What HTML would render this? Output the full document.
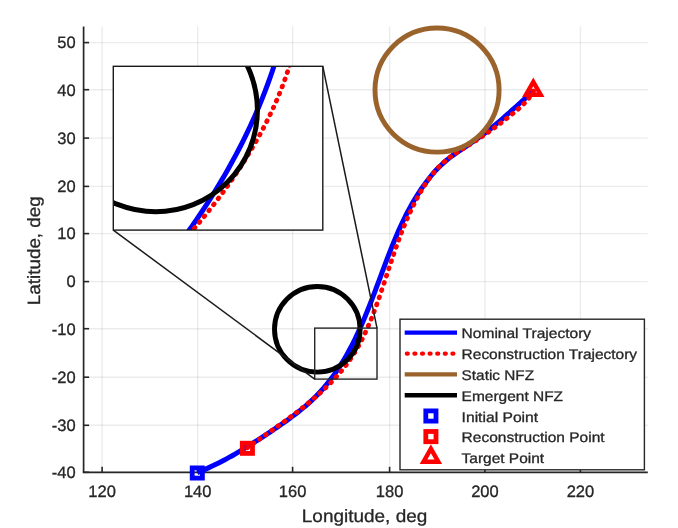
<!DOCTYPE html>
<html><head><meta charset="utf-8"><style>
html,body{margin:0;padding:0;background:#fff;-webkit-font-smoothing:antialiased;}
text{text-rendering:geometricPrecision;}
svg{display:block;will-change:transform;}
.g{stroke:rgba(38,38,38,0.085);stroke-width:1.4;}
.t{font-family:"Liberation Sans",sans-serif;font-size:16.5px;fill:#262626;stroke:#262626;stroke-width:0.3px;}
.lab{font-family:"Liberation Sans",sans-serif;font-size:17.8px;fill:#262626;stroke:#262626;stroke-width:0.3px;}
.lg{font-family:"Liberation Sans",sans-serif;font-size:14px;fill:#262626;stroke:#262626;stroke-width:0.3px;}
</style></head><body>
<svg width="678" height="528" viewBox="0 0 678 528">
<rect width="678" height="528" fill="#fff"/>
<line x1="102.10" y1="26.60" x2="102.10" y2="472.30" class="g"/>
<line x1="197.70" y1="26.60" x2="197.70" y2="472.30" class="g"/>
<line x1="292.60" y1="26.60" x2="292.60" y2="472.30" class="g"/>
<line x1="389.60" y1="26.60" x2="389.60" y2="472.30" class="g"/>
<line x1="484.90" y1="26.60" x2="484.90" y2="472.30" class="g"/>
<line x1="580.40" y1="26.60" x2="580.40" y2="472.30" class="g"/>
<line x1="83.60" y1="472.30" x2="647.80" y2="472.30" class="g"/>
<line x1="83.60" y1="425.30" x2="647.80" y2="425.30" class="g"/>
<line x1="83.60" y1="377.20" x2="647.80" y2="377.20" class="g"/>
<line x1="83.60" y1="328.70" x2="647.80" y2="328.70" class="g"/>
<line x1="83.60" y1="281.60" x2="647.80" y2="281.60" class="g"/>
<line x1="83.60" y1="233.60" x2="647.80" y2="233.60" class="g"/>
<line x1="83.60" y1="186.40" x2="647.80" y2="186.40" class="g"/>
<line x1="83.60" y1="138.10" x2="647.80" y2="138.10" class="g"/>
<line x1="83.60" y1="89.70" x2="647.80" y2="89.70" class="g"/>
<line x1="83.60" y1="42.60" x2="647.80" y2="42.60" class="g"/>
<line x1="83.60" y1="26.60" x2="83.60" y2="472.30" stroke="#262626" stroke-width="1.7"/>
<line x1="82.75" y1="472.30" x2="647.80" y2="472.30" stroke="#262626" stroke-width="1.7"/>
<line x1="102.10" y1="472.30" x2="102.10" y2="466.80" stroke="#262626" stroke-width="1.6"/>
<text x="102.10" y="497.3" text-anchor="middle" class="t">120</text>
<line x1="197.70" y1="472.30" x2="197.70" y2="466.80" stroke="#262626" stroke-width="1.6"/>
<text x="197.70" y="497.3" text-anchor="middle" class="t">140</text>
<line x1="292.60" y1="472.30" x2="292.60" y2="466.80" stroke="#262626" stroke-width="1.6"/>
<text x="292.60" y="497.3" text-anchor="middle" class="t">160</text>
<line x1="389.60" y1="472.30" x2="389.60" y2="466.80" stroke="#262626" stroke-width="1.6"/>
<text x="389.60" y="497.3" text-anchor="middle" class="t">180</text>
<line x1="484.90" y1="472.30" x2="484.90" y2="466.80" stroke="#262626" stroke-width="1.6"/>
<text x="484.90" y="497.3" text-anchor="middle" class="t">200</text>
<line x1="580.40" y1="472.30" x2="580.40" y2="466.80" stroke="#262626" stroke-width="1.6"/>
<text x="580.40" y="497.3" text-anchor="middle" class="t">220</text>
<line x1="83.60" y1="472.30" x2="89.10" y2="472.30" stroke="#262626" stroke-width="1.6"/>
<text x="75.6" y="478.10" text-anchor="end" class="t">-40</text>
<line x1="83.60" y1="425.30" x2="89.10" y2="425.30" stroke="#262626" stroke-width="1.6"/>
<text x="75.6" y="431.10" text-anchor="end" class="t">-30</text>
<line x1="83.60" y1="377.20" x2="89.10" y2="377.20" stroke="#262626" stroke-width="1.6"/>
<text x="75.6" y="383.00" text-anchor="end" class="t">-20</text>
<line x1="83.60" y1="328.70" x2="89.10" y2="328.70" stroke="#262626" stroke-width="1.6"/>
<text x="75.6" y="334.50" text-anchor="end" class="t">-10</text>
<line x1="83.60" y1="281.60" x2="89.10" y2="281.60" stroke="#262626" stroke-width="1.6"/>
<text x="75.6" y="287.40" text-anchor="end" class="t">0</text>
<line x1="83.60" y1="233.60" x2="89.10" y2="233.60" stroke="#262626" stroke-width="1.6"/>
<text x="75.6" y="239.40" text-anchor="end" class="t">10</text>
<line x1="83.60" y1="186.40" x2="89.10" y2="186.40" stroke="#262626" stroke-width="1.6"/>
<text x="75.6" y="192.20" text-anchor="end" class="t">20</text>
<line x1="83.60" y1="138.10" x2="89.10" y2="138.10" stroke="#262626" stroke-width="1.6"/>
<text x="75.6" y="143.90" text-anchor="end" class="t">30</text>
<line x1="83.60" y1="89.70" x2="89.10" y2="89.70" stroke="#262626" stroke-width="1.6"/>
<text x="75.6" y="95.50" text-anchor="end" class="t">40</text>
<line x1="83.60" y1="42.60" x2="89.10" y2="42.60" stroke="#262626" stroke-width="1.6"/>
<text x="75.6" y="48.40" text-anchor="end" class="t">50</text>
<path d="M197.27,472.69 C198.21,472.29 201.06,471.13 202.92,470.33 C204.78,469.52 206.61,468.70 208.43,467.87 C210.25,467.04 212.05,466.19 213.84,465.32 C215.62,464.46 217.39,463.58 219.14,462.69 C220.90,461.80 222.63,460.89 224.36,459.97 C226.08,459.06 227.79,458.13 229.49,457.18 C231.20,456.24 232.88,455.28 234.57,454.32 C236.25,453.35 237.92,452.37 239.58,451.38 C241.25,450.39 242.90,449.39 244.56,448.38 C246.21,447.37 247.86,446.35 249.50,445.32 C251.15,444.29 252.79,443.25 254.43,442.20 C256.07,441.15 257.71,440.09 259.35,439.03 C260.99,437.96 262.63,436.89 264.28,435.81 C265.92,434.73 267.57,433.64 269.22,432.55 C270.87,431.45 272.53,430.35 274.18,429.24 C275.83,428.13 277.49,427.01 279.13,425.88 C280.78,424.75 282.43,423.61 284.06,422.45 C285.70,421.30 287.33,420.14 288.95,418.96 C290.57,417.78 292.18,416.59 293.78,415.38 C295.37,414.17 296.95,412.95 298.52,411.71 C300.08,410.48 301.63,409.22 303.16,407.95 C304.68,406.68 306.19,405.39 307.68,404.08 C309.16,402.77 310.62,401.44 312.05,400.10 C313.49,398.75 314.90,397.38 316.27,395.99 C317.65,394.60 319.00,393.18 320.32,391.75 C321.64,390.32 322.93,388.86 324.20,387.39 C325.46,385.91 326.70,384.42 327.92,382.91 C329.13,381.40 330.32,379.86 331.48,378.32 C332.65,376.77 333.78,375.20 334.90,373.62 C336.02,372.03 337.11,370.43 338.18,368.82 C339.26,367.20 340.31,365.57 341.34,363.92 C342.37,362.28 343.38,360.61 344.37,358.94 C345.36,357.26 346.33,355.58 347.28,353.87 C348.23,352.17 349.17,350.46 350.09,348.73 C351.01,347.00 351.91,345.26 352.79,343.52 C353.68,341.77 354.55,340.01 355.41,338.24 C356.27,336.47 357.11,334.68 357.94,332.90 C358.77,331.11 359.58,329.31 360.39,327.50 C361.19,325.70 361.99,323.88 362.77,322.06 C363.55,320.24 364.32,318.41 365.09,316.58 C365.85,314.74 366.60,312.90 367.35,311.06 C368.09,309.21 368.83,307.36 369.56,305.51 C370.29,303.66 371.02,301.80 371.74,299.94 C372.46,298.08 373.17,296.21 373.88,294.34 C374.59,292.48 375.29,290.61 375.99,288.74 C376.70,286.87 377.39,285.00 378.09,283.13 C378.79,281.26 379.48,279.39 380.18,277.52 C380.88,275.65 381.57,273.78 382.26,271.91 C382.96,270.04 383.66,268.18 384.35,266.32 C385.05,264.45 385.75,262.59 386.46,260.74 C387.16,258.88 387.87,257.03 388.58,255.18 C389.30,253.33 390.02,251.48 390.74,249.64 C391.47,247.80 392.20,245.97 392.94,244.14 C393.69,242.31 394.43,240.49 395.20,238.67 C395.96,236.86 396.73,235.05 397.51,233.24 C398.29,231.44 399.09,229.64 399.90,227.86 C400.71,226.07 401.53,224.29 402.36,222.52 C403.20,220.75 404.05,218.99 404.92,217.24 C405.79,215.48 406.68,213.74 407.58,212.01 C408.48,210.28 409.41,208.56 410.35,206.85 C411.29,205.14 412.25,203.44 413.24,201.75 C414.22,200.06 415.22,198.39 416.25,196.72 C417.28,195.06 418.33,193.41 419.41,191.77 C420.48,190.14 421.58,188.51 422.71,186.91 C423.84,185.30 424.99,183.70 426.17,182.13 C427.36,180.55 428.56,179.00 429.80,177.46 C431.04,175.93 432.31,174.42 433.61,172.94 C434.91,171.47 436.24,170.01 437.60,168.60 C438.97,167.18 440.36,165.79 441.79,164.45 C443.22,163.11 444.69,161.80 446.19,160.53 C447.69,159.27 449.23,158.06 450.79,156.87 C452.35,155.68 453.95,154.54 455.56,153.40 C457.17,152.27 458.80,151.17 460.44,150.07 C462.07,148.97 463.72,147.90 465.37,146.81 C467.01,145.72 468.66,144.63 470.29,143.53 C471.92,142.43 473.55,141.32 475.16,140.20 C476.78,139.08 478.38,137.94 479.97,136.79 C481.57,135.64 483.15,134.47 484.72,133.29 C486.28,132.11 487.84,130.91 489.38,129.69 C490.92,128.48 492.45,127.24 493.97,125.99 C495.49,124.74 496.99,123.47 498.49,122.19 C499.98,120.91 501.47,119.62 502.95,118.32 C504.43,117.02 505.91,115.71 507.38,114.40 C508.85,113.09 510.32,111.77 511.78,110.45 C513.25,109.13 514.72,107.81 516.18,106.49 C517.64,105.17 519.11,103.84 520.57,102.52 C522.03,101.20 523.49,99.87 524.95,98.55 C526.41,97.22 527.86,95.90 529.32,94.57 C530.77,93.25 532.94,91.26 533.67,90.59" fill="none" stroke="#0000FF" stroke-width="5.00" stroke-linejoin="round"/>
<path d="M247.30,447.83 C247.99,447.33 250.06,445.84 251.45,444.84 C252.84,443.84 254.24,442.84 255.65,441.83 C257.06,440.83 258.47,439.83 259.90,438.82 C261.32,437.82 262.75,436.81 264.18,435.80 C265.61,434.79 267.05,433.78 268.49,432.76 C269.93,431.75 271.38,430.73 272.82,429.70 C274.27,428.68 275.72,427.65 277.17,426.62 C278.62,425.59 280.07,424.55 281.52,423.51 C282.97,422.47 284.42,421.42 285.86,420.37 C287.31,419.31 288.75,418.26 290.19,417.19 C291.63,416.12 293.07,415.05 294.50,413.97 C295.94,412.89 297.37,411.80 298.79,410.71 C300.21,409.61 301.62,408.51 303.03,407.40 C304.44,406.28 305.84,405.16 307.23,404.03 C308.62,402.90 310.00,401.77 311.37,400.62 C312.74,399.47 314.11,398.31 315.46,397.14 C316.81,395.97 318.14,394.79 319.47,393.60 C320.79,392.41 322.10,391.20 323.40,389.99 C324.70,388.77 325.98,387.55 327.25,386.31 C328.51,385.07 329.77,383.81 331.00,382.55 C332.23,381.28 333.45,380.01 334.65,378.71 C335.84,377.42 337.02,376.11 338.18,374.79 C339.34,373.47 340.48,372.14 341.60,370.78 C342.72,369.43 343.81,368.07 344.89,366.69 C345.96,365.30 347.01,363.91 348.04,362.49 C349.06,361.08 350.07,359.64 351.04,358.20 C352.02,356.75 352.97,355.28 353.90,353.80 C354.83,352.32 355.74,350.82 356.62,349.31 C357.51,347.80 358.37,346.28 359.21,344.74 C360.05,343.20 360.87,341.65 361.68,340.08 C362.48,338.52 363.26,336.94 364.03,335.35 C364.79,333.77 365.54,332.17 366.27,330.56 C367.01,328.95 367.72,327.33 368.42,325.70 C369.13,324.08 369.81,322.44 370.49,320.80 C371.16,319.15 371.82,317.50 372.47,315.84 C373.13,314.19 373.76,312.52 374.39,310.85 C375.02,309.18 375.64,307.51 376.25,305.83 C376.86,304.15 377.46,302.47 378.05,300.78 C378.65,299.10 379.23,297.41 379.81,295.72 C380.40,294.03 380.97,292.34 381.54,290.65 C382.11,288.95 382.68,287.26 383.24,285.57 C383.81,283.87 384.37,282.18 384.93,280.49 C385.49,278.79 386.05,277.10 386.60,275.41 C387.16,273.72 387.72,272.03 388.28,270.34 C388.83,268.65 389.39,266.96 389.95,265.27 C390.51,263.59 391.07,261.90 391.64,260.22 C392.21,258.54 392.77,256.85 393.35,255.18 C393.92,253.50 394.50,251.82 395.08,250.15 C395.66,248.48 396.25,246.81 396.85,245.14 C397.44,243.48 398.04,241.81 398.65,240.16 C399.26,238.50 399.88,236.84 400.51,235.19 C401.14,233.54 401.77,231.89 402.42,230.25 C403.07,228.61 403.72,226.97 404.39,225.34 C405.06,223.71 405.74,222.08 406.44,220.46 C407.13,218.84 407.84,217.22 408.56,215.62 C409.28,214.01 410.01,212.40 410.76,210.81 C411.51,209.21 412.28,207.62 413.06,206.03 C413.84,204.45 414.64,202.87 415.45,201.30 C416.27,199.73 417.10,198.17 417.95,196.62 C418.81,195.06 419.68,193.51 420.57,191.98 C421.46,190.45 422.38,188.92 423.31,187.41 C424.25,185.90 425.21,184.41 426.19,182.93 C427.18,181.46 428.19,180.00 429.23,178.57 C430.27,177.14 431.33,175.73 432.43,174.35 C433.52,172.97 434.65,171.62 435.80,170.30 C436.96,168.98 438.15,167.69 439.37,166.43 C440.60,165.18 441.85,163.96 443.15,162.79 C444.44,161.61 445.77,160.47 447.14,159.38 C448.51,158.28 449.92,157.23 451.35,156.21 C452.78,155.18 454.25,154.20 455.72,153.23 C457.20,152.26 458.71,151.32 460.21,150.38 C461.72,149.44 463.24,148.52 464.76,147.58 C466.27,146.65 467.80,145.73 469.31,144.79 C470.82,143.85 472.32,142.91 473.82,141.95 C475.31,140.99 476.80,140.02 478.28,139.04 C479.76,138.07 481.23,137.08 482.70,136.08 C484.16,135.08 485.62,134.08 487.07,133.06 C488.52,132.05 489.96,131.02 491.40,129.99 C492.84,128.96 494.27,127.92 495.69,126.87 C497.12,125.82 498.53,124.76 499.95,123.69 C501.36,122.62 502.76,121.55 504.16,120.47 C505.56,119.38 506.96,118.29 508.35,117.19 C509.73,116.10 511.12,114.99 512.50,113.88 C513.87,112.76 515.25,111.64 516.59,110.50 C517.93,109.35 519.27,108.20 520.56,107.00 C521.85,105.80 523.13,104.59 524.34,103.32 C525.56,102.05 526.74,100.76 527.86,99.40 C528.97,98.05 530.05,96.65 531.04,95.19 C532.03,93.72 533.35,91.38 533.81,90.62" fill="none" stroke="#FF0000" stroke-width="4.80" stroke-dasharray="0.8 6.8" stroke-linecap="round" stroke-dashoffset="0.4"/>
<circle cx="437.05" cy="90.1" r="62.05" fill="none" stroke="#9A632C" stroke-width="4.9"/>
<circle cx="317.3" cy="329.3" r="42.8" fill="none" stroke="#000" stroke-width="4.9"/>
<rect x="192.20" y="467.90" width="10.20" height="10.20" fill="none" stroke="#0000FF" stroke-width="4.80"/>
<rect x="242.30" y="443.20" width="10.20" height="10.20" fill="none" stroke="#FF0000" stroke-width="4.80"/>
<path d="M533.30,77.43 L544.50,97.03 L522.10,97.03 Z M533.30,86.37 L536.90,92.57 L529.70,92.57 Z" fill="#FF0000" fill-rule="evenodd"/>
<rect x="314.7" y="328.1" width="62.3" height="51.0" fill="none" stroke="#262626" stroke-width="1.4"/>
<line x1="322.8" y1="66.4" x2="377.0" y2="328.1" stroke="#1a1a1a" stroke-width="1.5"/>
<line x1="113.3" y1="230.1" x2="314.7" y2="379.1" stroke="#1a1a1a" stroke-width="1.5"/>
<text x="301.8" y="522" class="lab" textLength="125.5" lengthAdjust="spacingAndGlyphs">Longitude, deg</text>
<text transform="translate(40.4,305.2) rotate(-90)" class="lab" textLength="109" lengthAdjust="spacingAndGlyphs">Latitude, deg</text>
<rect x="113.30" y="66.30" width="209.50" height="163.80" fill="#fff"/>
<clipPath id="ic"><rect x="113.30" y="66.30" width="209.50" height="163.80"/></clipPath>
<g clip-path="url(#ic)">
<path d="M186.47,234.00 C187.32,232.81 189.86,229.22 191.53,226.83 C193.20,224.44 194.86,222.06 196.49,219.67 C198.13,217.28 199.74,214.89 201.34,212.50 C202.93,210.11 204.50,207.72 206.06,205.33 C207.61,202.94 209.15,200.56 210.66,198.17 C212.17,195.78 213.67,193.39 215.14,191.00 C216.62,188.61 218.07,186.22 219.50,183.83 C220.94,181.44 222.35,179.06 223.75,176.67 C225.14,174.28 226.51,171.89 227.87,169.50 C229.22,167.11 230.55,164.72 231.87,162.33 C233.18,159.94 234.48,157.56 235.75,155.17 C237.02,152.78 238.28,150.39 239.51,148.00 C240.74,145.61 241.96,143.22 243.15,140.83 C244.34,138.44 245.52,136.06 246.67,133.67 C247.82,131.28 248.96,128.89 250.07,126.50 C251.19,124.11 252.28,121.72 253.35,119.33 C254.43,116.94 255.48,114.56 256.51,112.17 C257.55,109.78 258.56,107.39 259.55,105.00 C260.55,102.61 261.52,100.22 262.47,97.83 C263.42,95.44 264.36,93.06 265.27,90.67 C266.18,88.28 267.08,85.89 267.95,83.50 C268.82,81.11 269.68,78.72 270.51,76.33 C271.34,73.94 272.16,71.56 272.95,69.17 C273.74,66.78 274.88,63.19 275.27,62.00" fill="none" stroke="#0000FF" stroke-width="5.00"/>
<path d="M189.38,234.00 C190.42,232.81 193.55,229.22 195.58,226.83 C197.62,224.44 199.63,222.06 201.60,219.67 C203.58,217.28 205.53,214.89 207.45,212.50 C209.37,210.11 211.26,207.72 213.12,205.33 C214.98,202.94 216.81,200.56 218.61,198.17 C220.41,195.78 222.18,193.39 223.93,191.00 C225.67,188.61 227.38,186.22 229.07,183.83 C230.75,181.44 232.40,179.06 234.03,176.67 C235.65,174.28 237.25,171.89 238.81,169.50 C240.38,167.11 241.92,164.72 243.42,162.33 C244.93,159.94 246.40,157.56 247.85,155.17 C249.31,152.78 250.73,150.39 252.14,148.00 C253.55,145.61 254.96,143.22 256.32,140.83 C257.68,138.44 259.02,136.06 260.32,133.67 C261.63,131.28 262.91,128.89 264.15,126.50 C265.40,124.11 266.62,121.72 267.80,119.33 C268.99,116.94 270.15,114.56 271.28,112.17 C272.41,109.78 273.51,107.39 274.58,105.00 C275.65,102.61 276.69,100.22 277.70,97.83 C278.71,95.44 279.69,93.06 280.64,90.67 C281.59,88.28 282.52,85.89 283.41,83.50 C284.30,81.11 285.17,78.72 286.00,76.33 C286.83,73.94 287.64,71.56 288.41,69.17 C289.19,66.78 290.28,63.19 290.65,62.00" fill="none" stroke="#FF0000" stroke-width="4.80" stroke-dasharray="0.8 6.8" stroke-linecap="round"/>
<circle cx="155.7" cy="110.1" r="101.7" fill="none" stroke="#000" stroke-width="5"/>
</g>
<rect x="113.30" y="66.30" width="209.50" height="163.80" fill="none" stroke="#1a1a1a" stroke-width="1.4"/>
<rect x="400.0" y="319.2" width="244.4" height="150.6" fill="#fff" stroke="#262626" stroke-width="1.4"/>
<line x1="404.7" y1="332.6" x2="457.0" y2="332.6" stroke="#0000FF" stroke-width="4.40"/>
<line x1="406.9" y1="353.6" x2="454.8" y2="353.6" stroke="#FF0000" stroke-width="4.40" stroke-dasharray="0.8 6.8" stroke-linecap="round"/>
<line x1="404.7" y1="374.4" x2="457.0" y2="374.4" stroke="#9A632C" stroke-width="4.40"/>
<line x1="404.7" y1="395.3" x2="457.0" y2="395.3" stroke="#000" stroke-width="4.40"/>
<rect x="425.80" y="410.90" width="10.20" height="10.20" fill="none" stroke="#0000FF" stroke-width="4.80"/>
<rect x="425.80" y="431.50" width="10.20" height="10.20" fill="none" stroke="#FF0000" stroke-width="4.80"/>
<path d="M430.90,444.33 L442.10,463.93 L419.70,463.93 Z M430.90,453.27 L434.50,459.47 L427.30,459.47 Z" fill="#FF0000" fill-rule="evenodd"/>
<text x="461.6" y="338.40" class="lg" textLength="129.5" lengthAdjust="spacingAndGlyphs">Nominal Trajectory</text>
<text x="461.6" y="359.40" class="lg" textLength="175.5" lengthAdjust="spacingAndGlyphs">Reconstruction Trajectory</text>
<text x="461.6" y="380.20" class="lg" textLength="72.5" lengthAdjust="spacingAndGlyphs">Static NFZ</text>
<text x="461.6" y="401.10" class="lg" textLength="101.5" lengthAdjust="spacingAndGlyphs">Emergent NFZ</text>
<text x="461.6" y="421.80" class="lg" textLength="76.5" lengthAdjust="spacingAndGlyphs">Initial Point</text>
<text x="461.6" y="442.40" class="lg" textLength="143.0" lengthAdjust="spacingAndGlyphs">Reconstruction Point</text>
<text x="461.6" y="463.20" class="lg" textLength="82.5" lengthAdjust="spacingAndGlyphs">Target Point</text>
</svg></body></html>
